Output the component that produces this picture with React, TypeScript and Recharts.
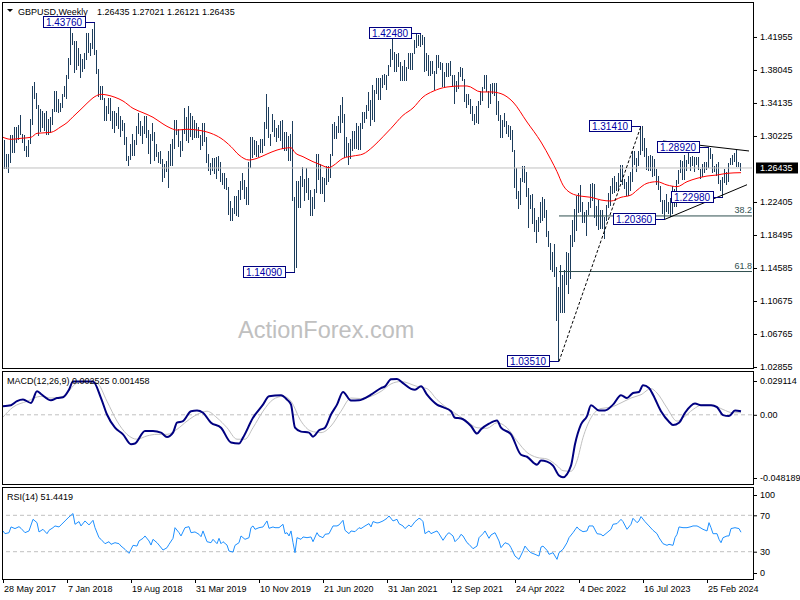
import {
  ComposedChart,
  Bar,
  Line,
  XAxis,
  YAxis,
  ReferenceLine,
  ReferenceDot,
} from "recharts";

// weekly GBPUSD bars from 28 May 2017, one value per week
const highs = [
  1.2935, 1.2977, 1.2812, 1.2814, 1.3029, 1.303, 1.3125, 1.3125, 1.3155, 1.3267,
  1.3051, 1.303, 1.2907, 1.298, 1.3223, 1.3615, 1.3657, 1.353, 1.339, 1.3338,
  1.332, 1.329, 1.332, 1.3225, 1.325, 1.3345, 1.355, 1.355, 1.3455, 1.341,
  1.3515, 1.3612, 1.3745, 1.3943, 1.4345, 1.424, 1.415, 1.4146, 1.407, 1.3995,
  1.393, 1.4005, 1.4245, 1.4245, 1.412, 1.429, 1.4376, 1.404, 1.3815, 1.362,
  1.3617, 1.3475, 1.338, 1.3475, 1.3475, 1.3315, 1.3315, 1.3297, 1.3365, 1.326,
  1.3215, 1.3175, 1.301, 1.278, 1.293, 1.3045, 1.298, 1.314, 1.33, 1.32,
  1.3135, 1.326, 1.3258, 1.309, 1.3045, 1.3175, 1.307, 1.2925, 1.2835, 1.284,
  1.2745, 1.269, 1.273, 1.284, 1.293, 1.299, 1.3215, 1.3215, 1.311, 1.296,
  1.311, 1.335, 1.325, 1.338, 1.3295, 1.3265, 1.321, 1.3175, 1.3125, 1.304,
  1.3175, 1.3175, 1.3015, 1.281, 1.27, 1.2765, 1.276, 1.277, 1.2785, 1.2715,
  1.258, 1.258, 1.252, 1.2415, 1.225, 1.2165, 1.231, 1.231, 1.2385, 1.249,
  1.2585, 1.2505, 1.242, 1.271, 1.301, 1.301, 1.2975, 1.296, 1.291, 1.299,
  1.2985, 1.3185, 1.3515, 1.3365, 1.305, 1.3285, 1.3215, 1.312, 1.315, 1.3205,
  1.321, 1.307, 1.307, 1.302, 1.305, 1.32, 1.23, 1.2485, 1.2485, 1.2545,
  1.265, 1.251, 1.2645, 1.252, 1.238, 1.2295, 1.24, 1.2815, 1.2815, 1.269,
  1.254, 1.253, 1.267, 1.267, 1.281, 1.317, 1.3185, 1.314, 1.3265, 1.3395,
  1.3485, 1.3285, 1.3005, 1.2935, 1.2985, 1.3085, 1.308, 1.3175, 1.314, 1.318,
  1.331, 1.331, 1.3395, 1.354, 1.3445, 1.3625, 1.357, 1.3705, 1.3705, 1.371,
  1.3745, 1.376, 1.3745, 1.3865, 1.405, 1.424, 1.4015, 1.399, 1.4, 1.39,
  1.385, 1.392, 1.384, 1.401, 1.4005, 1.4005, 1.4165, 1.4235, 1.422, 1.4248,
  1.4215, 1.42, 1.4, 1.3985, 1.391, 1.391, 1.379, 1.3985, 1.3985, 1.3895,
  1.389, 1.3785, 1.389, 1.389, 1.391, 1.375, 1.375, 1.3675, 1.3775, 1.3835,
  1.3825, 1.37, 1.3515, 1.3515, 1.3455, 1.3375, 1.3285, 1.3375, 1.344, 1.355,
  1.36, 1.375, 1.375, 1.356, 1.364, 1.3645, 1.3645, 1.3645, 1.344, 1.327,
  1.321, 1.33, 1.32, 1.315, 1.3145, 1.309, 1.286, 1.264, 1.237, 1.2525,
  1.2665, 1.2665, 1.26, 1.2405, 1.2325, 1.233, 1.2165, 1.203, 1.2065, 1.2245,
  1.2295, 1.2275, 1.214, 1.19, 1.176, 1.165, 1.174, 1.1475, 1.1235, 1.1495,
  1.138, 1.144, 1.1645, 1.1635, 1.1855, 1.203, 1.2155, 1.231, 1.2345, 1.2445,
  1.224, 1.2125, 1.2145, 1.2245, 1.245, 1.247, 1.245, 1.2195, 1.227, 1.215,
  1.2145, 1.2065, 1.2205, 1.2345, 1.2425, 1.2525, 1.2545, 1.2475, 1.2585, 1.268,
  1.268, 1.251, 1.2475, 1.2545, 1.2595, 1.285, 1.285, 1.276, 1.285, 1.3141,
  1.314, 1.2995, 1.2875, 1.279, 1.28, 1.279, 1.2745, 1.263, 1.2545, 1.2425,
  1.227, 1.226, 1.2335, 1.2235, 1.229, 1.243, 1.24, 1.2505, 1.2615, 1.2735,
  1.273, 1.2795, 1.2735, 1.2828, 1.277, 1.2785, 1.2775, 1.2775, 1.277, 1.2635,
  1.269, 1.271, 1.271, 1.2892, 1.2875, 1.2805, 1.2665, 1.2685, 1.271, 1.25,
  1.254, 1.2635, 1.2595, 1.27, 1.276, 1.28, 1.2818, 1.286, 1.272, 1.2702,
];

const lows = [
  1.2768, 1.2635, 1.2636, 1.2589, 1.27, 1.2812, 1.2812, 1.2932, 1.298, 1.3025,
  1.295, 1.2837, 1.2775, 1.2774, 1.293, 1.315, 1.345, 1.3338, 1.3027, 1.306,
  1.3115, 1.308, 1.304, 1.3035, 1.306, 1.316, 1.33, 1.33, 1.329, 1.33,
  1.3345, 1.348, 1.346, 1.37, 1.386, 1.41, 1.3765, 1.38, 1.3855, 1.3712,
  1.378, 1.382, 1.3925, 1.401, 1.3965, 1.405, 1.399, 1.376, 1.3485, 1.3457,
  1.345, 1.3205, 1.3205, 1.329, 1.3205, 1.31, 1.305, 1.314, 1.31, 1.301,
  1.308, 1.292, 1.2725, 1.266, 1.2735, 1.279, 1.2785, 1.2915, 1.305, 1.3025,
  1.292, 1.305, 1.3, 1.28, 1.2695, 1.296, 1.2725, 1.277, 1.2705, 1.2685,
  1.2477, 1.253, 1.26, 1.2405, 1.267, 1.267, 1.287, 1.304, 1.29, 1.2775,
  1.285, 1.304, 1.296, 1.2945, 1.3005, 1.2975, 1.3, 1.3, 1.3, 1.2865,
  1.29, 1.295, 1.271, 1.2605, 1.256, 1.2615, 1.2575, 1.2505, 1.2605, 1.2475,
  1.244, 1.2385, 1.238, 1.208, 1.2015, 1.2015, 1.2095, 1.207, 1.206, 1.226,
  1.238, 1.2285, 1.2205, 1.2195, 1.264, 1.276, 1.28, 1.277, 1.277, 1.2825,
  1.282, 1.2905, 1.31, 1.3, 1.2905, 1.3075, 1.301, 1.2955, 1.3, 1.297,
  1.287, 1.285, 1.285, 1.2725, 1.2725, 1.2255, 1.1409, 1.145, 1.2165, 1.2165,
  1.241, 1.225, 1.235, 1.2265, 1.2075, 1.2075, 1.2165, 1.235, 1.2505, 1.234,
  1.2335, 1.225, 1.244, 1.248, 1.252, 1.279, 1.2985, 1.2985, 1.306, 1.306,
  1.3175, 1.276, 1.2765, 1.2675, 1.2745, 1.2845, 1.2865, 1.2865, 1.2855, 1.2855,
  1.311, 1.318, 1.323, 1.331, 1.3135, 1.3215, 1.319, 1.351, 1.345, 1.345,
  1.3595, 1.3625, 1.3565, 1.373, 1.3835, 1.3925, 1.378, 1.378, 1.3835, 1.367,
  1.367, 1.367, 1.367, 1.382, 1.38, 1.38, 1.4, 1.407, 1.409, 1.4085,
  1.41, 1.379, 1.379, 1.3735, 1.373, 1.376, 1.357, 1.3755, 1.383, 1.38,
  1.36, 1.36, 1.3725, 1.3725, 1.373, 1.361, 1.341, 1.3545, 1.357, 1.372,
  1.367, 1.3425, 1.3355, 1.338, 1.3275, 1.3195, 1.316, 1.3175, 1.317, 1.338,
  1.343, 1.358, 1.355, 1.3355, 1.34, 1.351, 1.349, 1.327, 1.32, 1.3,
  1.3, 1.314, 1.305, 1.3005, 1.2975, 1.283, 1.241, 1.2275, 1.2155, 1.22,
  1.2475, 1.246, 1.2305, 1.1935, 1.216, 1.1975, 1.1875, 1.176, 1.189, 1.2,
  1.2005, 1.2045, 1.182, 1.1715, 1.1445, 1.141, 1.135, 1.084, 1.0351, 1.0925,
  1.0925, 1.0925, 1.125, 1.1145, 1.1335, 1.171, 1.1765, 1.19, 1.2105, 1.2125,
  1.199, 1.199, 1.184, 1.209, 1.2165, 1.226, 1.205, 1.196, 1.1915, 1.1925,
  1.192, 1.18, 1.201, 1.217, 1.219, 1.2335, 1.2345, 1.2365, 1.237, 1.2475,
  1.2445, 1.239, 1.231, 1.231, 1.237, 1.2485, 1.269, 1.259, 1.267, 1.28,
  1.2845, 1.2765, 1.262, 1.2615, 1.2615, 1.2545, 1.2545, 1.2445, 1.238, 1.223,
  1.211, 1.2036, 1.2125, 1.209, 1.207, 1.2095, 1.2185, 1.219, 1.2445, 1.2585,
  1.25, 1.25, 1.261, 1.268, 1.261, 1.267, 1.2595, 1.2675, 1.2615, 1.252,
  1.2535, 1.2575, 1.261, 1.264, 1.274, 1.2575, 1.259, 1.254, 1.2445, 1.2365,
  1.2298, 1.2465, 1.2445, 1.247, 1.268, 1.2685, 1.2715, 1.266, 1.2655, 1.2612,
];

// [week, value]
const emaPoints = [
  [0, 1.3007], [4, 1.2983], [9, 1.2995], [14, 1.3007], [17, 1.3054], [24, 1.3066],
  [29, 1.3133], [32, 1.318], [35, 1.325], [39, 1.334], [42, 1.341], [46, 1.349],
  [49, 1.3516], [52, 1.3508], [56, 1.3481], [60, 1.3437], [65, 1.335], [70, 1.3298],
  [75, 1.3244], [80, 1.3165], [84, 1.3113], [87, 1.3093], [92, 1.3102], [98, 1.309],
  [104, 1.3054], [109, 1.2995], [114, 1.2896], [118, 1.2797], [123, 1.2738], [127, 1.2758],
  [132, 1.2809], [137, 1.2856], [144, 1.2884], [146, 1.2825], [150, 1.2777], [155, 1.2718],
  [159, 1.2679], [163, 1.2647], [165, 1.267], [170, 1.2758], [175, 1.2785], [180, 1.2809],
  [185, 1.2896], [190, 1.3014], [194, 1.3113], [200, 1.3267], [205, 1.3354], [210, 1.3484],
  [215, 1.3552], [222, 1.3603], [229, 1.3615], [232, 1.3615], [239, 1.3544], [244, 1.3544],
  [249, 1.3524], [255, 1.3425], [262, 1.3188], [269, 1.2951], [274, 1.274], [277, 1.26],
  [280, 1.244], [284, 1.2345], [289, 1.231], [294, 1.2296], [299, 1.2264], [304, 1.2252],
  [309, 1.2296], [314, 1.2323], [317, 1.238], [322, 1.2462], [327, 1.2481], [332, 1.2442],
  [337, 1.2422], [342, 1.2481], [347, 1.2521], [352, 1.2548], [357, 1.256], [362, 1.258],
  [369, 1.2588],
];

const macdPoints = [
  [0, 0.006], [4, 0.0067], [7, 0.0095], [10, 0.0106], [14, 0.0083], [17, 0.0164],
  [19, 0.0145], [24, 0.0101], [27, 0.0117], [30, 0.0122], [33, 0.0175], [35, 0.0232],
  [42, 0.0232], [45, 0.0232], [49, 0.0117], [52, 0.0002], [56, -0.009], [60, -0.0136],
  [64, -0.0205], [66, -0.02], [71, -0.0113], [75, -0.0113], [79, -0.0124], [82, -0.0154],
  [85, -0.0124], [87, -0.0055], [90, -0.0044], [94, 0.0025], [97, 0.003], [100, 0.0014],
  [104, -0.0055], [109, -0.009], [114, -0.0193], [118, -0.02], [120, -0.0159], [125, -0.0021],
  [130, 0.0071], [133, 0.0129], [139, 0.0136], [142, 0.0106], [144, 0.0071], [146, -0.009],
  [149, -0.0117], [153, -0.0124], [155, -0.0152], [158, -0.0108], [161, -0.009], [164, 0.0002],
  [167, 0.0071], [170, 0.0159], [174, 0.0099], [178, 0.0101], [180, 0.011], [184, 0.014],
  [189, 0.0186], [191, 0.0198], [194, 0.0247], [197, 0.025], [200, 0.0221], [204, 0.0181],
  [206, 0.0175], [209, 0.0198], [212, 0.014], [217, 0.0071], [220, 0.0053], [224, 0.0025],
  [226, -0.0021], [229, -0.0025], [234, -0.0078], [237, -0.0131], [239, -0.0101], [243, -0.0062],
  [247, -0.0039], [249, -0.009], [254, -0.0136], [259, -0.0278], [262, -0.0292], [267, -0.0347],
  [269, -0.0319], [272, -0.0326], [275, -0.0354], [278, -0.0423], [280, -0.0435], [284, -0.0354],
  [286, -0.0205], [289, -0.0067], [292, -0.0009], [294, 0.0067], [298, 0.003], [301, 0.003],
  [305, 0.0071], [309, 0.0136], [312, 0.0117], [315, 0.0152], [318, 0.0159], [320, 0.0205],
  [323, 0.0186], [325, 0.014], [329, 0.0025], [333, -0.0048], [335, -0.0071], [338, -0.0055],
  [341, 0.0014], [346, 0.0078], [349, 0.0067], [354, 0.0067], [357, 0.0053], [360, -0.0002],
  [363, -0.0009], [366, 0.003], [369, 0.0025],
];

const signalPoints = [
  [0, -0.0016], [5, 0.0053], [12, 0.0094], [19, 0.0129], [24, 0.0117], [30, 0.0129],
  [37, 0.0221], [42, 0.0232], [47, 0.0221], [52, 0.0094], [57, -0.0044], [62, -0.0136],
  [67, -0.017], [72, -0.0147], [77, -0.0136], [82, -0.0136], [87, -0.0101], [92, -0.0044],
  [97, 0.0002], [102, 0.0025], [107, -0.0021], [112, -0.009], [117, -0.017], [121, -0.017],
  [125, -0.009], [130, 0.0025], [135, 0.0106], [140, 0.0129], [144, 0.0094], [149, -0.0044],
  [154, -0.0113], [159, -0.0124], [164, -0.0078], [169, 0.0025], [174, 0.0117], [179, 0.0113],
  [184, 0.0129], [189, 0.0163], [194, 0.0215], [199, 0.0232], [207, 0.0198], [212, 0.0182],
  [217, 0.0106], [222, 0.0048], [227, 0.0002], [232, -0.0044], [237, -0.009], [242, -0.0094],
  [247, -0.0055], [252, -0.009], [257, -0.0182], [262, -0.0262], [267, -0.0297], [272, -0.0308],
  [277, -0.0354], [280, -0.0389], [284, -0.0393], [287, -0.032], [290, -0.0159], [294, -0.0021],
  [299, 0.0044], [304, 0.0053], [309, 0.0083], [314, 0.0117], [319, 0.014], [324, 0.0182],
  [327, 0.0152], [332, 0.0048], [337, -0.0044], [340, -0.0021], [345, 0.0037], [350, 0.0071],
  [355, 0.0067], [360, 0.0037], [365, 0.0014], [369, 0.0015],
];

const rsiPoints = [
  [0, 52.8], [1, 49.8], [3, 50.9], [4, 57.2], [6, 55.4], [8, 57.5], [9, 55.7], [11, 50.9],
  [13, 52.8], [15, 65.6], [17, 61.9], [18, 51.7], [20, 54.6], [22, 49.8], [23, 53.5], [25, 56.4],
  [26, 58.3], [28, 57.2], [29, 59.4], [31, 63.8], [33, 68.2], [35, 71.9], [36, 60.1], [38, 63.1],
  [39, 58.3], [41, 63.8], [43, 59.4], [45, 64.5], [46, 56.4], [48, 45.4], [49, 43.6], [51, 38.8],
  [53, 41.0], [54, 38.1], [56, 39.9], [58, 38.8], [59, 36.2], [61, 32.6], [63, 28.2], [64, 32.6],
  [65, 37.0], [67, 36.2], [68, 41.8], [70, 44.7], [71, 47.3], [73, 41.8], [74, 37.3], [75, 43.6],
  [77, 39.9], [78, 37.3], [80, 31.8], [82, 34.4], [83, 38.1], [85, 44.7], [86, 56.4], [88, 50.9],
  [89, 47.3], [91, 56.4], [93, 57.5], [94, 50.9], [96, 51.7], [98, 49.1], [99, 46.5], [100, 52.8],
  [102, 41.0], [104, 39.9], [105, 43.6], [107, 38.8], [108, 44.7], [109, 38.8], [110, 41.0], [112, 37.3],
  [113, 30.7], [115, 29.6], [116, 37.0], [118, 39.9], [119, 47.3], [121, 43.6], [123, 45.4], [124, 56.4],
  [125, 58.3], [126, 54.6], [128, 56.4], [130, 57.2], [132, 63.8], [133, 55.7], [135, 57.2], [136, 56.4],
  [138, 56.4], [140, 60.1], [141, 49.8], [142, 50.9], [143, 47.3], [144, 52.8], [145, 39.9], [146, 28.9],
  [147, 45.4], [149, 43.6], [150, 46.2], [152, 45.4], [154, 46.2], [155, 41.0], [157, 50.9], [158, 47.3],
  [160, 45.4], [161, 49.1], [163, 49.8], [165, 58.3], [167, 58.3], [168, 59.4], [170, 64.5], [171, 53.5],
  [173, 49.8], [174, 52.8], [176, 52.0], [178, 56.4], [179, 55.4], [181, 58.3], [183, 60.9], [184, 57.2],
  [185, 63.1], [187, 61.6], [188, 61.9], [190, 63.8], [192, 66.7], [193, 69.3], [195, 63.8], [197, 65.6],
  [198, 60.8], [200, 58.3], [201, 55.4], [203, 59.4], [204, 57.2], [206, 63.0], [208, 66.7], [209, 65.6],
  [210, 63.0], [211, 49.8], [213, 52.8], [214, 49.8], [215, 50.9], [217, 52.8], [218, 49.8], [220, 42.5],
  [222, 49.1], [223, 50.9], [225, 47.3], [226, 41.0], [228, 45.4], [229, 49.1], [230, 47.3], [232, 39.9],
  [233, 38.1], [235, 33.3], [237, 36.2], [238, 45.4], [240, 49.8], [241, 52.8], [243, 44.7], [244, 48.4],
  [246, 50.9], [248, 41.8], [249, 34.4], [251, 39.9], [253, 38.1], [254, 34.4], [256, 25.2], [258, 21.6],
  [260, 30.7], [261, 36.2], [263, 30.7], [264, 28.9], [266, 27.1], [268, 25.2], [269, 35.1], [270, 36.2],
  [272, 31.5], [273, 27.1], [275, 28.9], [277, 21.6], [278, 28.9], [280, 32.6], [282, 39.9], [283, 45.4],
  [285, 50.9], [287, 57.2], [288, 54.6], [290, 52.0], [292, 52.8], [293, 58.3], [295, 58.3], [297, 49.8],
  [299, 49.1], [300, 47.3], [302, 50.9], [304, 54.6], [305, 60.1], [307, 60.9], [309, 65.6], [310, 63.0],
  [312, 54.6], [314, 60.1], [315, 66.7], [317, 61.9], [318, 63.8], [319, 68.6], [321, 63.0], [323, 58.3],
  [325, 53.5], [327, 49.8], [328, 45.4], [330, 38.8], [332, 37.0], [333, 38.1], [335, 37.0], [336, 45.4],
  [337, 49.1], [338, 57.2], [340, 56.4], [342, 56.4], [344, 57.5], [345, 58.3], [347, 58.3], [348, 57.2],
  [350, 54.6], [352, 52.8], [353, 61.9], [354, 56.4], [355, 49.8], [357, 49.8], [358, 43.6], [359, 39.9],
  [360, 45.4], [362, 47.3], [363, 47.3], [364, 55.4], [366, 56.4], [368, 55.4], [369, 51.4],
];

const dateTickWeeks = [0, 32, 64, 96, 128, 160, 192, 224, 256, 288, 320, 352];
const dateTickLabels = [
  "28 May 2017", "7 Jan 2018", "19 Aug 2018", "31 Mar 2019", "10 Nov 2019", "21 Jun 2020",
  "31 Jan 2021", "12 Sep 2021", "24 Apr 2022", "4 Dec 2022", "16 Jul 2023", "25 Feb 2024",
];
const priceTicks = [1.02855, 1.06765, 1.10675, 1.14585, 1.18495, 1.22405, 1.30225, 1.34135, 1.38045, 1.41955];
const lastPrice = 1.26435;
const pivotWeeks = [46, 146, 209, 278, 319, 331, 353, 360];
const pivotPrices = [1.4376, 1.1409, 1.4248, 1.0351, 1.3141, 1.2036, 1.2892, 1.2298];
const fibFrom = [278, 1.0351];
const fibTo = [319, 1.3141];
const fibRatios = [0.382, 0.618];
const triangleTop = [[330, 1.2963], [373, 1.2845]];
const triangleBottom = [[331, 1.2036], [372, 1.2445]];
const macdTicks = [-0.048189, 0, 0.029114];
const rsiTicks = [0, 30, 70, 100];

const SLOTS = 375; // bars plus empty shift on the right
const X_DOMAIN = [-0.5, SLOTS - 0.5];
const FONT = "'Liberation Sans', Arial, sans-serif";
const BAR = "#1d3d5c";
const NAVY = "#000080";
const FIB = "#2f4f4f";

type Row = {
  i: number;
  hl: number[] | null;
  ema?: number;
  macd?: number;
  signal?: number;
  rsi?: number;
};

const rows: Row[] = Array.from({ length: SLOTS }, (_, i) => ({
  i,
  hl: i < highs.length ? [lows[i], highs[i]] : null,
}));
emaPoints.forEach(([w, v]) => (rows[w].ema = v));
macdPoints.forEach(([w, v]) => (rows[w].macd = v));
signalPoints.forEach(([w, v]) => (rows[w].signal = v));
rsiPoints.forEach(([w, v]) => (rows[w].rsi = v));

function HLBar(props: any) {
  const { x, y, width, height, payload } = props;
  if (!payload || !payload.hl || y == null || height == null) return <g />;
  const top = Math.min(y, y + height);
  const h = Math.max(1, Math.abs(height));
  const cx = Math.floor(x + width / 2);
  return <rect x={cx} y={Math.round(top)} width={1} height={Math.round(h)} fill={BAR} />;
}

function pivotTag(label: string) {
  return (p: any) => {
    const cx = Math.round(p.cx);
    const cy = Math.round(p.cy);
    const right = cx - 10;
    return (
      <g>
        <line x1={right} y1={cy + 0.5} x2={cx} y2={cy + 0.5} stroke={NAVY} />
        <rect x={right - 42 + 0.5} y={cy - 5.5} width={42} height={11} fill="#fff" stroke={NAVY} />
        <text x={right - 21} y={cy + 4} textAnchor="middle" fontSize={10} fill="#0000a8" fontFamily={FONT}>
          {label}
        </text>
      </g>
    );
  };
}

function fibLabel(label: string) {
  return (p: any) => (
    <text x={p.cx} y={p.cy - 3} textAnchor="end" fontSize={9} fill={FIB} fontFamily={FONT}>
      {label}
    </text>
  );
}

function PriceTick(p: any) {
  const { x, y, payload } = p;
  const v = payload.value as number;
  if (v === lastPrice) {
    return (
      <g>
        <rect x={x - 2} y={y - 5.5} width={42} height={11} fill="#000" />
        <text x={x + 2} y={y + 3.3} fontSize={9} fill="#fff" fontFamily={FONT}>
          {v.toFixed(5)}
        </text>
      </g>
    );
  }
  return (
    <g>
      <line x1={x - 5} x2={x - 1} y1={y + 0.5} y2={y + 0.5} stroke="#000" />
      <text x={x + 2} y={y + 3.3} fontSize={9} fill="#000" fontFamily={FONT}>
        {v.toFixed(5)}
      </text>
    </g>
  );
}

function MacdTick(p: any) {
  const { x, payload } = p;
  const v = payload.value as number;
  const y = p.y + (v > 0.01 ? 8 : v < -0.01 ? -6 : 0);
  return (
    <g>
      <line x1={x - 5} x2={x - 1} y1={y + 0.5} y2={y + 0.5} stroke="#000" />
      <text x={x + 2} y={y + 3.3} fontSize={9} fill="#000" fontFamily={FONT}>
        {v === 0 ? "0.00" : v.toFixed(6)}
      </text>
    </g>
  );
}

function RsiTick(p: any) {
  const { x, payload } = p;
  const v = payload.value as number;
  const y = p.y + (v === 100 ? 7 : v === 0 ? -6 : 0);
  return (
    <g>
      <line x1={x - 5} x2={x - 1} y1={y + 0.5} y2={y + 0.5} stroke="#000" />
      <text x={x + 2} y={y + 3.3} fontSize={9} fill="#000" fontFamily={FONT}>
        {v}
      </text>
    </g>
  );
}

function DateTick(p: any) {
  const { x, y, payload } = p;
  const k = dateTickWeeks.indexOf(payload.value);
  return (
    <g>
      <line x1={x + 0.5} x2={x + 0.5} y1={y} y2={y + 4} stroke="#000" />
      <text x={x + 1} y={y + 13} fontSize={9} fill="#000" fontFamily={FONT}>
        {dateTickLabels[k]}
      </text>
    </g>
  );
}

const fibLevel = (r: number) => fibTo[1] - r * (fibTo[1] - fibFrom[1]);

export default function App() {
  return (
    <div
      style={{
        position: "absolute",
        left: 0,
        top: 0,
        width: 800,
        height: 600,
        background: "#fff",
        fontFamily: FONT,
        overflow: "hidden",
      }}
    >
      <div style={{ position: "absolute", left: 0, top: 0 }}>
        <ComposedChart width={800} height={372} data={rows} margin={{ top: 3, right: 0, bottom: 3, left: 2 }}>
          <XAxis dataKey="i" type="number" domain={X_DOMAIN} allowDataOverflow hide />
          <YAxis
            orientation="right"
            width={48}
            type="number"
            domain={[1.0262, 1.4598]}
            allowDataOverflow
            ticks={[...priceTicks, lastPrice]}
            interval={0}
            axisLine={false}
            tickLine={false}
            tickSize={4}
            tickMargin={2}
            tick={<PriceTick />}
          />
          <ReferenceLine y={lastPrice} stroke="#c0c0c0" />
          {fibRatios.map((r) => (
            <ReferenceLine
              key={r}
              segment={[
                { x: fibFrom[0], y: fibLevel(r) },
                { x: X_DOMAIN[1], y: fibLevel(r) },
              ]}
              stroke={FIB}
            />
          ))}
          {fibRatios.map((r) => (
            <ReferenceDot
              key={"l" + r}
              x={X_DOMAIN[1]}
              y={fibLevel(r)}
              shape={fibLabel((r * 100).toFixed(1))}
            />
          ))}
          <Bar dataKey="hl" barSize={1} shape={(p: any) => <HLBar {...p} />} isAnimationActive={false} />
          <Line
            dataKey="ema"
            type="monotone"
            stroke="#ff0000"
            strokeWidth={1}
            dot={false}
            connectNulls
            isAnimationActive={false}
          />
          <ReferenceLine
            segment={[
              { x: fibFrom[0], y: fibFrom[1] },
              { x: fibTo[0], y: fibTo[1] },
            ]}
            stroke="#000"
            strokeDasharray="3 2"
          />
          <ReferenceLine
            segment={[
              { x: triangleTop[0][0], y: triangleTop[0][1] },
              { x: triangleTop[1][0], y: triangleTop[1][1] },
            ]}
            stroke="#000"
          />
          <ReferenceLine
            segment={[
              { x: triangleBottom[0][0], y: triangleBottom[0][1] },
              { x: triangleBottom[1][0], y: triangleBottom[1][1] },
            ]}
            stroke="#000"
          />
          {pivotWeeks.map((w, k) => (
            <ReferenceDot
              key={"p" + w}
              x={w}
              y={pivotPrices[k]}
              shape={pivotTag(pivotPrices[k].toFixed(5))}
            />
          ))}
        </ComposedChart>
      </div>

      <div style={{ position: "absolute", left: 0, top: 371 }}>
        <ComposedChart width={800} height={114} data={rows} margin={{ top: 2, right: 0, bottom: 1, left: 2 }}>
          <XAxis dataKey="i" type="number" domain={X_DOMAIN} allowDataOverflow hide />
          <YAxis
            orientation="right"
            width={48}
            type="number"
            domain={[macdTicks[0], macdTicks[2]]}
            allowDataOverflow
            ticks={macdTicks}
            interval={0}
            axisLine={false}
            tickLine={false}
            tickSize={4}
            tickMargin={2}
            tick={<MacdTick />}
          />
          <ReferenceLine y={0} stroke="#c0c0c0" strokeDasharray="4 3" />
          <Line
            dataKey="signal"
            type="monotone"
            stroke="#c0c0c0"
            strokeWidth={1}
            dot={false}
            connectNulls
            isAnimationActive={false}
          />
          <Line
            dataKey="macd"
            type="monotone"
            stroke={NAVY}
            strokeWidth={2}
            dot={false}
            connectNulls
            isAnimationActive={false}
          />
        </ComposedChart>
      </div>

      <div style={{ position: "absolute", left: 0, top: 487 }}>
        <ComposedChart width={800} height={113} data={rows} margin={{ top: 1, right: 0, bottom: 0, left: 2 }}>
          <XAxis
            dataKey="i"
            type="number"
            domain={X_DOMAIN}
            allowDataOverflow
            ticks={dateTickWeeks}
            interval={0}
            height={21}
            axisLine={false}
            tickLine={false}
            tickSize={0}
            tickMargin={0}
            tick={<DateTick />}
          />
          <YAxis
            orientation="right"
            width={48}
            type="number"
            domain={[0, 100]}
            allowDataOverflow
            ticks={rsiTicks}
            interval={0}
            axisLine={false}
            tickLine={false}
            tickSize={4}
            tickMargin={2}
            tick={<RsiTick />}
          />
          <ReferenceLine y={70} stroke="#c0c0c0" strokeDasharray="4 3" />
          <ReferenceLine y={30} stroke="#c0c0c0" strokeDasharray="4 3" />
          <Line
            dataKey="rsi"
            type="linear"
            stroke="#1e90ff"
            strokeWidth={1}
            dot={false}
            connectNulls
            isAnimationActive={false}
          />
        </ComposedChart>
      </div>

      <svg
        width={800}
        height={600}
        style={{ position: "absolute", left: 0, top: 0, pointerEvents: "none" }}
        fontFamily={FONT}
      >
        <rect x={2.5} y={2.5} width={751} height={366} fill="none" stroke="#000" />
        <rect x={2.5} y={371.5} width={751} height={113} fill="none" stroke="#000" />
        <rect x={2.5} y={487.5} width={751} height={92} fill="none" stroke="#000" />
        <polygon points="7,9 13,9 10,12" fill="#000" />
        <text x={18} y={14.5} fontSize={9} fill="#000">
          GBPUSD,Weekly
        </text>
        <text x={97} y={14.5} fontSize={9} fill="#000">
          1.26435 1.27021 1.26121 1.26435
        </text>
        <text x={238} y={338} fontSize={23.5} fill="#c0c0c0">
          ActionForex.com
        </text>
        <text x={7} y={384} fontSize={9} fill="#000">
          MACD(12,26,9) 0.002525 0.001458
        </text>
        <text x={7} y={500} fontSize={9} fill="#000">
          RSI(14) 51.4419
        </text>
      </svg>
    </div>
  );
}
